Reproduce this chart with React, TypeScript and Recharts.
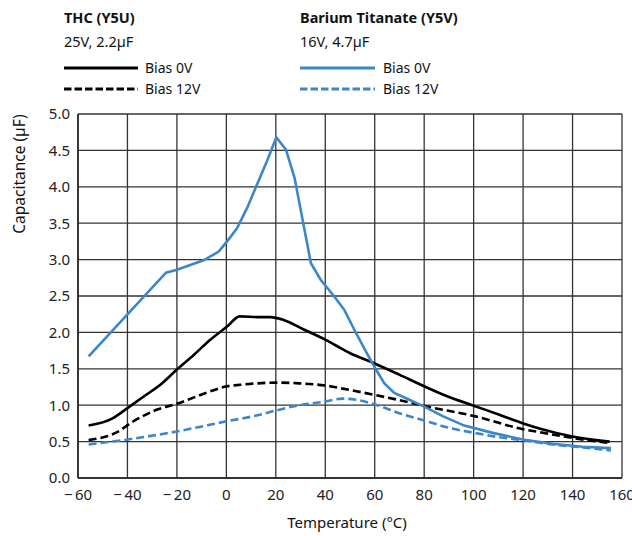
import React from "react";
import { LineChart, Line, XAxis, YAxis, CartesianGrid } from "recharts";

const xTicks = [-60, -40, -20, 0, 20, 40, 60, 80, 100, 120, 140, 160];
const yTicks = [0, 0.5, 1, 1.5, 2, 2.5, 3, 3.5, 4, 4.5, 5];

const thcBias0V = [
  { t: -55.7, v: 0.72 }, { t: -46, v: 0.82 }, { t: -40, v: 0.96 }, { t: -33.4, v: 1.12 },
  { t: -26.7, v: 1.28 }, { t: -20, v: 1.49 }, { t: -13.2, v: 1.69 }, { t: -6.5, v: 1.9 },
  { t: 0.3, v: 2.08 }, { t: 5.4, v: 2.22 }, { t: 13.7, v: 2.21 }, { t: 17.8, v: 2.21 },
  { t: 23.2, v: 2.17 }, { t: 31.3, v: 2.04 }, { t: 40, v: 1.9 }, { t: 44.3, v: 1.82 },
  { t: 49.7, v: 1.72 }, { t: 60.2, v: 1.57 }, { t: 69.9, v: 1.42 }, { t: 80, v: 1.26 },
  { t: 88.8, v: 1.13 }, { t: 100.3, v: 0.99 }, { t: 110.4, v: 0.87 }, { t: 120.1, v: 0.75 },
  { t: 126.6, v: 0.68 }, { t: 140, v: 0.57 }, { t: 155, v: 0.5 },
];

const thcBias12V = [
  { t: -55.7, v: 0.52 }, { t: -44.2, v: 0.63 }, { t: -37.5, v: 0.78 }, { t: -28, v: 0.94 },
  { t: -20, v: 1.02 }, { t: -10.5, v: 1.14 }, { t: 0.3, v: 1.26 }, { t: 5.6, v: 1.28 },
  { t: 20.4, v: 1.31 }, { t: 29.5, v: 1.3 }, { t: 40, v: 1.27 }, { t: 49.7, v: 1.21 },
  { t: 60.2, v: 1.14 }, { t: 69.9, v: 1.07 }, { t: 80, v: 0.99 }, { t: 100.3, v: 0.85 },
  { t: 120.1, v: 0.67 }, { t: 126.6, v: 0.63 }, { t: 140, v: 0.55 }, { t: 155, v: 0.48 },
];

const btBias0V = [
  { t: -55.7, v: 1.67 }, { t: -24.4, v: 2.82 }, { t: -20, v: 2.86 }, { t: -9.2, v: 2.99 },
  { t: -3.1, v: 3.11 }, { t: 0.3, v: 3.25 }, { t: 4.3, v: 3.43 }, { t: 8.4, v: 3.71 },
  { t: 12.4, v: 4.03 }, { t: 16.4, v: 4.35 }, { t: 20.2, v: 4.68 }, { t: 24.1, v: 4.51 },
  { t: 27.6, v: 4.12 }, { t: 34.2, v: 2.95 }, { t: 38.2, v: 2.72 }, { t: 43, v: 2.52 },
  { t: 47.7, v: 2.31 }, { t: 51.7, v: 2.04 }, { t: 56.4, v: 1.74 }, { t: 60.5, v: 1.49 },
  { t: 63.9, v: 1.3 }, { t: 67.9, v: 1.17 }, { t: 74, v: 1.075 }, { t: 80, v: 0.98 },
  { t: 87.5, v: 0.85 }, { t: 96.2, v: 0.72 }, { t: 107.7, v: 0.62 }, { t: 119.8, v: 0.53 },
  { t: 132, v: 0.47 }, { t: 144, v: 0.43 }, { t: 155.5, v: 0.41 },
];

const btBias12V = [
  { t: -55.7, v: 0.46 }, { t: -39.8, v: 0.53 }, { t: -20, v: 0.64 }, { t: 0.3, v: 0.78 },
  { t: 11.1, v: 0.85 }, { t: 20.4, v: 0.93 }, { t: 29.5, v: 1.0 }, { t: 40, v: 1.05 },
  { t: 47, v: 1.09 }, { t: 52.4, v: 1.075 }, { t: 60.2, v: 1.01 }, { t: 69.9, v: 0.89 },
  { t: 80, v: 0.79 }, { t: 90, v: 0.69 }, { t: 100.3, v: 0.62 }, { t: 110.4, v: 0.56 },
  { t: 120.1, v: 0.52 }, { t: 132, v: 0.46 }, { t: 144, v: 0.42 }, { t: 155.5, v: 0.38 },
];

const BLUE = "#3b87c9";
const FONT = "'Noto Sans', 'Open Sans', sans-serif";

const fmtX = (v: number) => (v < 0 ? "\u2212\u2009" + Math.abs(v) : String(v));
const fmtY = (v: number) => v.toFixed(1);

export default function App() {
  return (
    <div style={{ position: "absolute", left: 0, top: 0, width: 632, height: 536, background: "#fff", fontFamily: FONT }}>
      <LineChart width={632} height={536} margin={{ top: 114, right: 10, bottom: 28, left: 0 }}>
        <CartesianGrid stroke="#333" strokeWidth={1.3} horizontalValues={yTicks} verticalValues={xTicks} />
        <XAxis
          dataKey="t"
          type="number"
          domain={[-60, 160]}
          ticks={xTicks}
          tickFormatter={fmtX}
          allowDuplicatedCategory={false}
          interval={0}
          height={30}
          tickSize={0}
          tickMargin={11}
          axisLine={{ stroke: "#222", strokeWidth: 1.5 }}
          tick={{ fill: "#222", fontSize: 15, fontFamily: FONT }}
        />
        <YAxis
          type="number"
          domain={[0, 5]}
          ticks={yTicks}
          tickFormatter={fmtY}
          interval={0}
          width={78}
          tickSize={0}
          tickMargin={8}
          axisLine={{ stroke: "#222", strokeWidth: 1.5 }}
          tick={{ fill: "#222", fontSize: 15, fontFamily: FONT }}
        />
        <Line data={btBias12V} dataKey="v" type="monotone" stroke={BLUE} strokeWidth={2.6} strokeDasharray="8 4" dot={false} isAnimationActive={false} />
        <Line data={thcBias12V} dataKey="v" type="monotone" stroke="#000" strokeWidth={2.6} strokeDasharray="8 4" dot={false} isAnimationActive={false} />
        <Line data={thcBias0V} dataKey="v" type="monotone" stroke="#000" strokeWidth={2.6} dot={false} isAnimationActive={false} />
        <Line data={btBias0V} dataKey="v" type="linear" stroke={BLUE} strokeWidth={2.6} dot={false} isAnimationActive={false} />
      </LineChart>
      <svg width={632} height={536} style={{ position: "absolute", left: 0, top: 0, pointerEvents: "none" }} fontFamily={FONT}>
        <text x={64} y={23} fontSize={14.5} fontWeight="bold" fill="#111">THC (Y5U)</text>
        <text x={64} y={47} fontSize={14.5} fill="#111">25V, 2.2µF</text>
        <line x1={64} x2={138} y1={68} y2={68} stroke="#000" strokeWidth={3} />
        <text x={145} y={73} fontSize={14} fill="#111">Bias 0V</text>
        <line x1={64} x2={138} y1={89} y2={89} stroke="#000" strokeWidth={3} strokeDasharray="7.5 3" />
        <text x={145} y={94} fontSize={14} fill="#111">Bias 12V</text>

        <text x={300} y={23} fontSize={14.5} fontWeight="bold" fill="#111">Barium Titanate (Y5V)</text>
        <text x={300} y={47} fontSize={14.5} fill="#111">16V, 4.7µF</text>
        <line x1={300} x2={375} y1={68} y2={68} stroke={BLUE} strokeWidth={3} />
        <text x={383} y={73} fontSize={14} fill="#111">Bias 0V</text>
        <line x1={300} x2={375} y1={89} y2={89} stroke={BLUE} strokeWidth={3} strokeDasharray="7.5 3" />
        <text x={383} y={94} fontSize={14} fill="#111">Bias 12V</text>

        <text x={25} y={174} fontSize={15.5} fill="#111" textAnchor="middle" transform="rotate(-90 25 174)">Capacitance (µF)</text>
        <text x={347} y={528} fontSize={15} fill="#111" textAnchor="middle">Temperature (°C)</text>
      </svg>
    </div>
  );
}
